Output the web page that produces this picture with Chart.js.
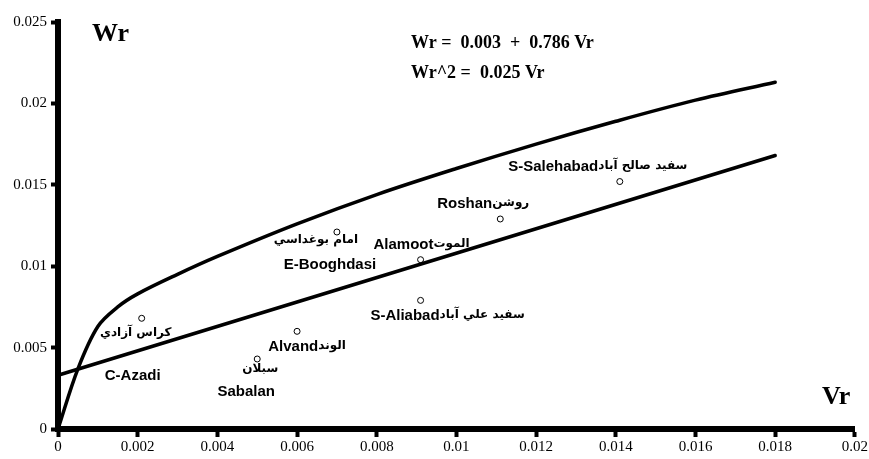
<!DOCTYPE html>
<html>
<head>
<meta charset="utf-8">
<script src="https://cdn.jsdelivr.net/npm/chart.js@4/dist/chart.umd.min.js"></script>
<style>
  html, body { margin: 0; padding: 0; background: #fff; }
  #wrap { width: 869px; height: 459px; position: relative; }
</style>
</head>
<body>
<div id="wrap"><canvas id="wrChart"></canvas></div>
<script>
// fitted curve Wr^2 = 0.025 Vr (as drawn)
const curveVr = [0, 0.0005, 0.001, 0.0015, 0.002, 0.003, 0.004, 0.006, 0.008, 0.010, 0.012, 0.014, 0.016, 0.018];
const curveWr = [0, 0.0037, 0.0063, 0.0075, 0.0083, 0.0095, 0.0106, 0.0126, 0.0144, 0.0160, 0.0175, 0.0189, 0.0202, 0.0213];

// fitted line Wr = 0.003 + 0.786 Vr (as drawn)
const lineVr = [0, 0.018];
const lineWr = [0.0033, 0.0168];

// measured rivers
const riverNames   = ['C-Azadi', 'Sabalan', 'Alvand', 'E-Booghdasi', 'Alamoot', 'S-Aliabad', 'Roshan', 'S-Salehabad'];
const riverNamesFa = ['كراس آزادي', 'سبلان', 'الوند', 'امام بوغداسي', 'الموت', 'سفيد علي آباد', 'روشن', 'سفيد صالح آباد'];
const riverVr = [0.0021, 0.0050, 0.0060, 0.0070, 0.0091, 0.0091, 0.0111, 0.0141];
const riverWr = [0.0068, 0.0043, 0.0060, 0.0121, 0.0104, 0.0079, 0.0129, 0.0152];

const xTicks = { min: 0, max: 0.02, step: 0.002 };
const yTicks = { min: 0, max: 0.025, step: 0.005 };

const SERIF = '"Liberation Serif", "Times New Roman", serif';
const SANS = '"Liberation Sans", Arial, sans-serif';
const FA_FONT = 'bold 12px "DejaVu Sans", sans-serif';
const EN_FONT = 'bold 15px ' + SANS;

// label layout (pixel offsets of label centre from each point)
const labelLayout = [
  [{ t: 'fa', dx: -6, dy: 15 }, { t: 'en', dx: -9, dy: 58 }],
  [{ t: 'fa', dx: 3, dy: 10 }, { t: 'en', dx: -11, dy: 33 }],
  [{ t: 'both', dx: 10, dy: 16 }],
  [{ t: 'fa', dx: -21, dy: 8 }, { t: 'en', dx: -7, dy: 33 }],
  [{ t: 'both', dx: 1, dy: -15 }],
  [{ t: 'both', dx: 27, dy: 15 }],
  [{ t: 'both', dx: -17, dy: -15 }],
  [{ t: 'both', dx: -22, dy: -15 }]
];

const textPlugin = {
  id: 'textPlugin',
  afterDatasetsDraw(chart) {
    const { ctx, scales } = chart;
    ctx.save();
    ctx.fillStyle = '#000';
    ctx.textBaseline = 'middle';

    riverNames.forEach((name, i) => {
      const px = scales.x.getPixelForValue(riverVr[i]);
      const py = scales.y.getPixelForValue(riverWr[i]);
      labelLayout[i].forEach(l => {
        const cx = px + l.dx, cy = py + l.dy;
        if (l.t === 'both') {
          ctx.font = EN_FONT;
          const wEn = ctx.measureText(name).width;
          ctx.font = FA_FONT;
          const wFa = ctx.measureText(riverNamesFa[i]).width;
          const x0 = cx - (wEn + wFa) / 2;
          ctx.textAlign = 'left';
          ctx.font = EN_FONT;
          ctx.fillText(name, x0, cy);
          ctx.font = FA_FONT;
          ctx.fillText(riverNamesFa[i], x0 + wEn, cy - 1);
        } else {
          ctx.textAlign = 'center';
          ctx.font = l.t === 'fa' ? FA_FONT : EN_FONT;
          ctx.fillText(l.t === 'fa' ? riverNamesFa[i] : name, cx, cy);
        }
      });
    });

    // axis titles
    ctx.textAlign = 'left';
    ctx.font = 'bold 26px ' + SERIF;
    ctx.fillText('Wr', 92, 34);
    ctx.fillText('Vr', 822, 397);

    // equations
    ctx.font = 'bold 18px ' + SERIF;
    ctx.fillText('Wr =  0.003  +  0.786 Vr', 411, 43);
    ctx.fillText('Wr^2 =  0.025 Vr', 411, 73);
    ctx.restore();
  }
};

const fmt = v => String(+(+v).toFixed(4));

new Chart(document.getElementById('wrChart'), {
  type: 'scatter',
  data: {
    datasets: [
      {
        data: curveVr.map((v, i) => ({ x: v, y: curveWr[i] })),
        showLine: true,
        borderColor: '#000',
        borderWidth: 3.5,
        pointRadius: 0,
        tension: 0.35,
        borderCapStyle: 'round',
        clip: false
      },
      {
        data: lineVr.map((v, i) => ({ x: v, y: lineWr[i] })),
        showLine: true,
        borderColor: '#000',
        borderWidth: 3.5,
        pointRadius: 0,
        borderCapStyle: 'round',
        clip: false
      },
      {
        data: riverVr.map((v, i) => ({ x: v, y: riverWr[i] })),
        showLine: false,
        pointRadius: 3,
        pointBackgroundColor: '#fff',
        pointBorderColor: '#000',
        pointBorderWidth: 1
      }
    ]
  },
  options: {
    responsive: true,
    maintainAspectRatio: false,
    animation: false,
    layout: { padding: { top: 22, right: 14, left: 0, bottom: 0 } },
    plugins: { legend: { display: false }, tooltip: { enabled: false } },
    scales: {
      x: {
        type: 'linear',
        min: xTicks.min, max: xTicks.max,
        border: { color: '#000', width: 6 },
        grid: { drawOnChartArea: false, drawTicks: true, tickLength: 8, tickWidth: 4, tickColor: '#000' },
        ticks: { stepSize: xTicks.step, color: '#000', padding: 1, maxRotation: 0, font: { family: SERIF, size: 15 }, callback: fmt },
        afterFit(s) { s.height = 30; }
      },
      y: {
        type: 'linear',
        min: yTicks.min, max: yTicks.max,
        border: { color: '#000', width: 6 },
        grid: { drawOnChartArea: false, drawTicks: true, tickLength: 7, tickWidth: 4, tickColor: '#000' },
        ticks: { stepSize: yTicks.step, color: '#000', padding: 4, font: { family: SERIF, size: 15 }, callback: fmt },
        afterFit(s) { s.width = 58; }
      }
    }
  },
  plugins: [textPlugin]
});
</script>
</body>
</html>
